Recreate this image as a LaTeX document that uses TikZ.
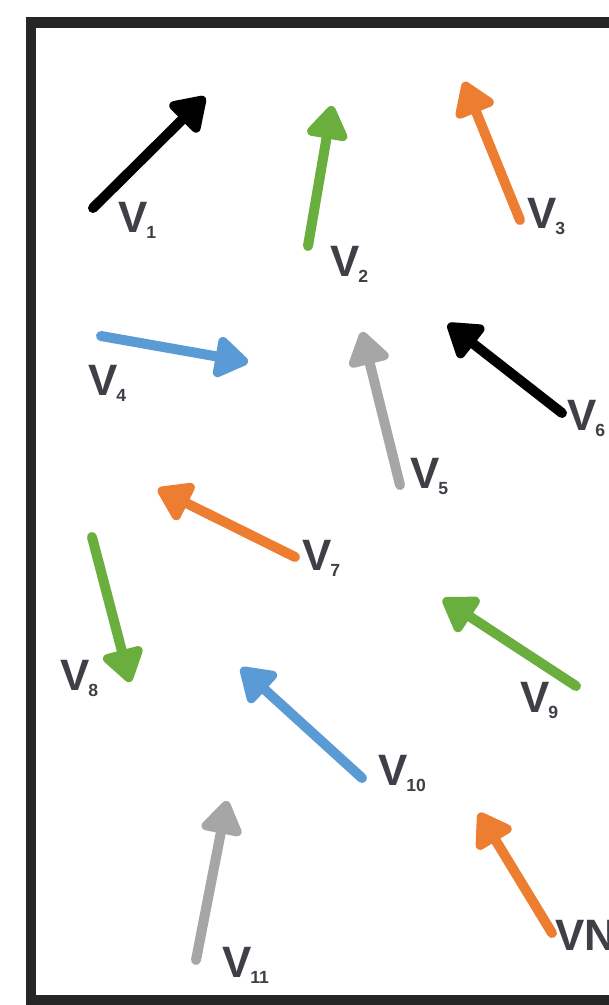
\documentclass[tikz,border=0pt]{standalone}
\usepackage{fontspec}
\setmainfont{Liberation Sans}
\usetikzlibrary{arrows.meta}

\definecolor{vgreen}{HTML}{6AAE3E}
\definecolor{vorange}{HTML}{ED7D31}
\definecolor{vblue}{HTML}{5B9BD5}
\definecolor{vgray}{HTML}{A6A6A6}
\definecolor{labgray}{HTML}{3F3F48}
\definecolor{framegray}{HTML}{262626}

% V with a small lowered index
\newcommand{\vname}[1]{V\hspace{-0.03em}\raisebox{-0.14em}{\fontsize{10}{12}\selectfont #1}}

\begin{document}
\begin{tikzpicture}[
  x=0.02cm, y=-0.02cm,
  >={Triangle[length=0.74cm,width=0.92cm,round]},
  vec/.style={->, line width=0.2cm, line cap=round},
  lab/.style={anchor=base west, inner sep=0pt, text=labgray, font=\bfseries\fontsize{25}{30}\selectfont}
]
\clip (0,0) rectangle (609,1005);
\fill[white] (0,0) rectangle (609,1005);
\draw[framegray, line width=0.22cm] (31,22) rectangle (700,1000);

% tails and tips
\coordinate (t1) at (93,208);   \coordinate (h1) at (205,97);
\coordinate (t2) at (308,246);  \coordinate (h2) at (332,106);
\coordinate (t3) at (520,220);  \coordinate (h3) at (464,82);
\coordinate (t4) at (101,336);  \coordinate (h4) at (248,362);
\coordinate (t5) at (400,485);  \coordinate (h5) at (362,332);
\coordinate (t6) at (562,413);  \coordinate (h6) at (448,324);
\coordinate (t7) at (295,557);  \coordinate (h7) at (158,489);
\coordinate (t8) at (92,537);   \coordinate (h8) at (130,682);
\coordinate (t9) at (576,686);  \coordinate (h9) at (443,599);
\coordinate (t10) at (362,778); \coordinate (h10) at (241,668);
\coordinate (t11) at (196,960); \coordinate (h11) at (227,801);
\coordinate (tN) at (552,933);  \coordinate (hN) at (479,813);

\draw[vec, black] (t1) -- (h1);
\draw[vec, vgreen] (t2) -- (h2);
\draw[vec, vorange] (t3) -- (h3);
\draw[vec, vblue] (t4) -- (h4);
\draw[vec, vgray] (t5) -- (h5);
\draw[vec, black] (t6) -- (h6);
\draw[vec, vorange] (t7) -- (h7);
\draw[vec, vgreen] (t8) -- (h8);
\draw[vec, vgreen] (t9) -- (h9);
\draw[vec, vblue] (t10) -- (h10);
\draw[vec, vgray] (t11) -- (h11);
\draw[vec, vorange] (tN) -- (hN);

% labels
\node[lab] (l1) at (118,232) {\vname{1}};
\node[lab] (l2) at (330,276) {\vname{2}};
\node[lab] (l3) at (527,228) {\vname{3}};
\node[lab] (l4) at (88,395) {\vname{4}};
\node[lab] (l5) at (410,488) {\vname{5}};
\node[lab] (l6) at (567,430) {\vname{6}};
\node[lab] (l7) at (302,570) {\vname{7}};
\node[lab] (l8) at (60,690) {\vname{8}};
\node[lab] (l9) at (520,712) {\vname{9}};
\node[lab] (l10) at (378,785) {\vname{10}};
\node[lab] (l11) at (222,977) {\vname{11}};
\node[lab] (lN) at (555,950) {VN};
\end{tikzpicture}
\end{document}
